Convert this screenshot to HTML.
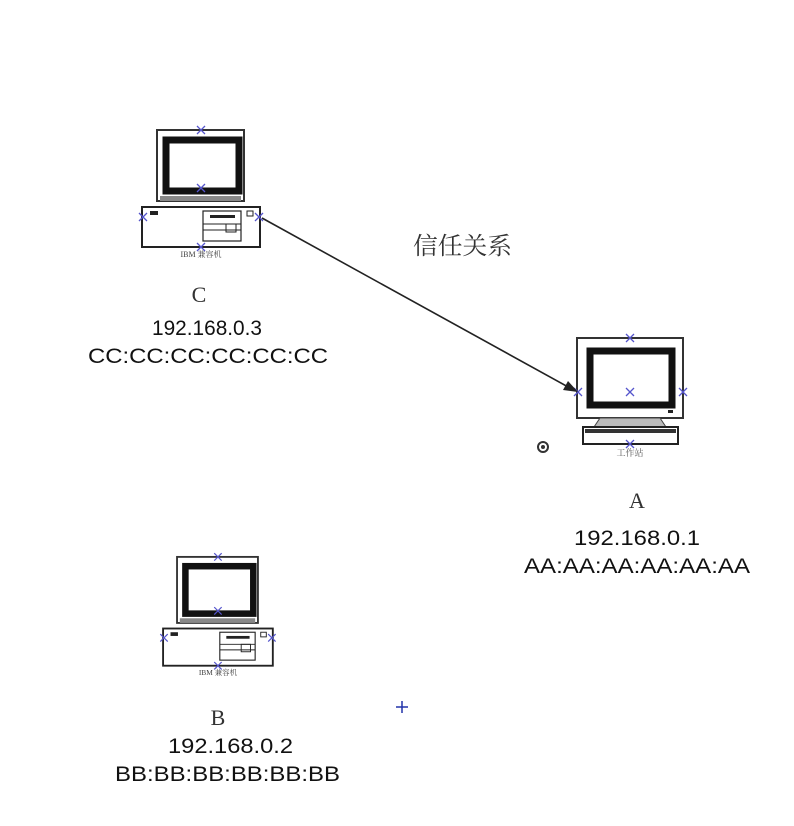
<!DOCTYPE html>
<html><head><meta charset="utf-8"><style>body{margin:0;background:#fff}svg{display:block}</style></head><body>
<svg width="794" height="826" viewBox="0 0 794 826" xmlns="http://www.w3.org/2000/svg" font-family="Liberation Sans, sans-serif">
<defs>
<g id="x"><path d="M-4,-4L4,4M-4,4L4,-4" stroke="#5555cc" stroke-width="1.3"/></g>
<g id="pc">
<rect x="157" y="130" width="87" height="71" fill="#fff" stroke="#333" stroke-width="2"/>
<rect x="166" y="140" width="73" height="51" fill="none" stroke="#111" stroke-width="7"/>
<rect x="160" y="196" width="81" height="5" fill="#888"/>
<rect x="142" y="207" width="118" height="40" fill="#fff" stroke="#222" stroke-width="2"/>
<rect x="150" y="211" width="8" height="4" fill="#222"/>
<rect x="203" y="211" width="38" height="30" fill="none" stroke="#222" stroke-width="1.2"/>
<rect x="210" y="215" width="25" height="3" fill="#222"/>
<line x1="203" y1="224" x2="241" y2="224" stroke="#222"/><line x1="203" y1="230" x2="241" y2="230" stroke="#222"/>
<rect x="226" y="224" width="10" height="8" fill="none" stroke="#222"/>
<rect x="247" y="211" width="6" height="5" fill="none" stroke="#222"/>
<text x="201" y="257" font-size="8" text-anchor="middle" fill="#444" font-family="Liberation Serif, Noto Serif CJK SC, serif">IBM 兼容机</text>
<use href="#x" x="201" y="130"/><use href="#x" x="201" y="188"/><use href="#x" x="143" y="217"/><use href="#x" x="259" y="217"/><use href="#x" x="201" y="247"/>
</g>
</defs>
<use href="#pc"/>
<use href="#pc" transform="translate(18,436) scale(0.93) translate(14,0)"/>
<rect x="577" y="338" width="106" height="80" fill="#fff" stroke="#333" stroke-width="2"/>
<rect x="590" y="351" width="82" height="54" fill="none" stroke="#111" stroke-width="7"/>
<rect x="668" y="410" width="5" height="3" fill="#222"/>
<path d="M600,418 L660,418 L666,427 L594,427 Z" fill="#bbb" stroke="#444"/>
<rect x="583" y="427" width="95" height="17" fill="#fff" stroke="#222" stroke-width="2"/>
<rect x="585" y="429" width="91" height="4" fill="#333"/>
<text x="630" y="456" font-size="9" text-anchor="middle" fill="#555" font-family="Liberation Serif, Noto Serif CJK SC, serif">工作站</text>
<use href="#x" x="630" y="338"/><use href="#x" x="630" y="392"/><use href="#x" x="578" y="392"/><use href="#x" x="683" y="392"/><use href="#x" x="630" y="444"/>
<line x1="262" y1="218" x2="570" y2="388" stroke="#222" stroke-width="1.6"/>
<path d="M578,392 L563,390 L568,381 Z" fill="#222"/>
<text x="413" y="254" font-size="24" textLength="99" lengthAdjust="spacingAndGlyphs" fill="#333" font-family="Liberation Serif, Noto Serif CJK SC, serif">信任关系</text>
<circle cx="543" cy="447" r="5" fill="#fff" stroke="#333" stroke-width="2"/><circle cx="543" cy="447" r="2" fill="#333"/>
<path d="M396,707H408M402,701V713" stroke="#2233aa" stroke-width="1.5"/>
<g font-family="Liberation Serif, serif" font-size="22" fill="#333" text-anchor="middle">
<text x="199" y="302">C</text><text x="637" y="508">A</text><text x="218" y="725">B</text></g>
<g font-size="21" fill="#111">
<text x="152" y="335" textLength="110" lengthAdjust="spacingAndGlyphs">192.168.0.3</text><text x="88" y="363" textLength="240" lengthAdjust="spacingAndGlyphs">CC:CC:CC:CC:CC:CC</text>
<text x="574" y="545" textLength="126" lengthAdjust="spacingAndGlyphs">192.168.0.1</text><text x="524" y="573" textLength="226" lengthAdjust="spacingAndGlyphs">AA:AA:AA:AA:AA:AA</text>
<text x="168" y="753" textLength="125" lengthAdjust="spacingAndGlyphs">192.168.0.2</text><text x="115" y="781" textLength="225" lengthAdjust="spacingAndGlyphs">BB:BB:BB:BB:BB:BB</text>
</g>
</svg>
</body></html>
